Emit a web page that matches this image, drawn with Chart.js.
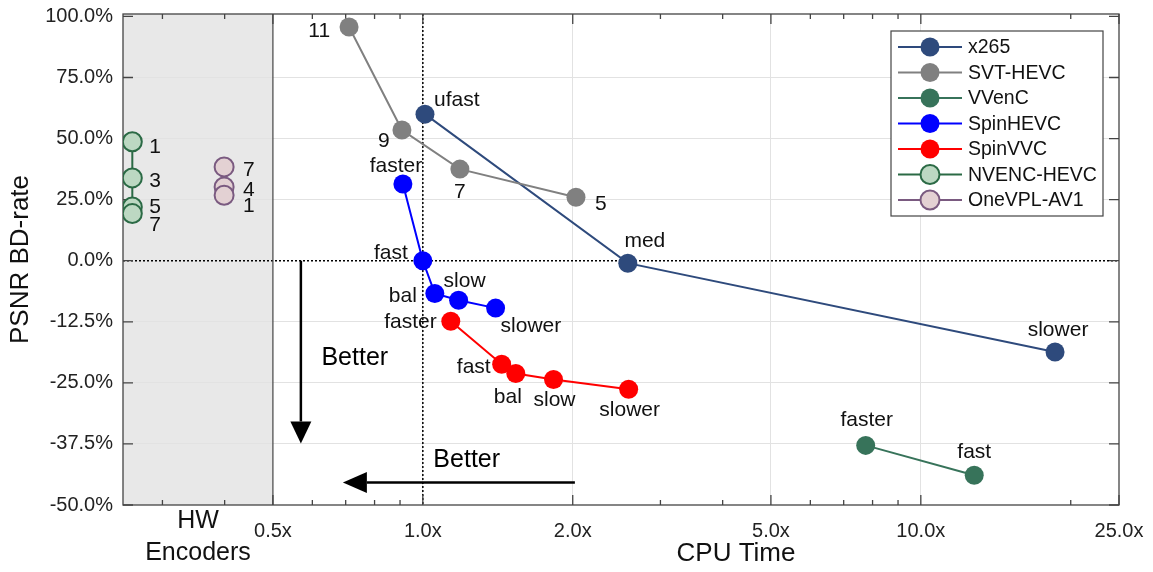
<!DOCTYPE html>
<html lang="en">
<head>
<meta charset="UTF-8">
<title>PSNR BD-rate vs CPU Time</title>
<script src="https://cdn.jsdelivr.net/npm/chart.js@4.4.1/dist/chart.umd.min.js"></script>
<style>
    body { margin: 0; background: #fff; }
    #wrap { width: 1153px; height: 572px; }
</style>
</head>
<body>
<div id="wrap"><canvas id="myChart"></canvas></div>
<script>
    // relative CPU time (x) and PSNR BD-rate in % (y), one set per encoder
    const x265Presets = ['ufast', 'med', 'slower'];
    const x265Time = [1.01, 2.58, 18.6];
    const x265Rate = [60.0, -0.5, -18.7];

    const svtPresets = ['11', '9', '7', '5'];
    const svtTime = [0.711, 0.908, 1.187, 2.03];
    const svtRate = [95.7, 53.5, 37.5, 26.0];

    const vvencPresets = ['faster', 'fast'];
    const vvencTime = [7.75, 12.8];
    const vvencRate = [-37.8, -43.9];

    const spinHevcPresets = ['faster', 'fast', 'bal', 'slow', 'slower'];
    const spinHevcTime = [0.912, 1.0, 1.057, 1.18, 1.40];
    const spinHevcRate = [31.4, 0.0, -6.7, -8.1, -9.7];

    const spinVvcPresets = ['faster', 'fast', 'bal', 'slow', 'slower'];
    const spinVvcTime = [1.138, 1.44, 1.537, 1.83, 2.59];
    const spinVvcRate = [-12.4, -21.2, -23.1, -24.3, -26.3];

    const nvencPresets = ['1', '3', '5', '7'];
    const nvencTime = [0.261, 0.261, 0.261, 0.261];
    const nvencRate = [48.7, 33.9, 22.0, 19.3];

    const onevplPresets = ['7', '4', '1'];
    const onevplTime = [0.399, 0.399, 0.399];
    const onevplRate = [38.4, 30.2, 26.8];

    const xTicks = [0.5, 1, 2, 5, 10, 25];
    const xMinorTicks = [0.3, 0.4, 0.6, 0.7, 0.8, 0.9, 3, 4, 6, 7, 8, 9, 20];
    const yTicks = [100, 75, 50, 25, 0, -12.5, -25, -37.5, -50];

    // y axis is split: positive side 25% per step, negative side 12.5% per step
    function yPlot(v) { return v >= 0 ? v : v * 2; }
    function yLabel(p) { return p >= 0 ? p : p / 2; }

    // label placement: [dx, dy, align] from the marker centre
    const labelPos = {
        'x265': [[9, -14, 'left'], [17, -22, 'center'], [3, -22, 'center']],
        'SVT-HEVC': [[-19, 4, 'right'], [-18, 11, 'center'], [0, 23, 'center'], [25, 7, 'center']],
        'VVenC': [[1, -25, 'center'], [0, -23, 'center']],
        'SpinHEVC': [[-7, -18, 'center'], [-15, -8, 'right'], [-18, 3, 'right'], [6, -19, 'center'], [5, 18, 'left']],
        'SpinVVC': [[-14, 1, 'right'], [-11, 3, 'right'], [-8, 24, 'center'], [1, 21, 'center'], [1, 21, 'center']],
        'NVENC-HEVC': [[17, 5, 'left'], [17, 3, 'left'], [17, 0, 'left'], [17, 12, 'left']],
        'OneVPL-AV1': [[19, 3, 'left'], [19, 3, 'left'], [19, 11, 'left']]
    };

    function series(label, times, rates, presets, line, fill, border) {
        return {
            label: label,
            data: times.map((t, i) => ({ x: t, y: yPlot(rates[i]) })),
            presets: presets,
            showLine: true,
            borderColor: line,
            borderWidth: 2,
            pointRadius: 9.5,
            pointHoverRadius: 9.5,
            pointBackgroundColor: fill,
            pointBorderColor: border,
            pointBorderWidth: border === fill ? 0 : 2
        };
    }

    const datasets = [
        series('OneVPL-AV1', onevplTime, onevplRate, onevplPresets, '#7a5a80', '#e3d1d3', '#7a5a80'),
        series('NVENC-HEVC', nvencTime, nvencRate, nvencPresets, '#2b6a45', '#bcd8c2', '#2b6a45'),
        series('VVenC', vvencTime, vvencRate, vvencPresets, '#37735a', '#37735a', '#37735a'),
        series('SpinVVC', spinVvcTime, spinVvcRate, spinVvcPresets, '#ff0000', '#ff0000', '#ff0000'),
        series('SpinHEVC', spinHevcTime, spinHevcRate, spinHevcPresets, '#0000ff', '#0000ff', '#0000ff'),
        series('SVT-HEVC', svtTime, svtRate, svtPresets, '#808080', '#808080', '#808080'),
        series('x265', x265Time, x265Rate, x265Presets, '#2e4a7c', '#2e4a7c', '#2e4a7c')
    ];
    const legendOrder = ['x265', 'SVT-HEVC', 'VVenC', 'SpinHEVC', 'SpinVVC', 'NVENC-HEVC', 'OneVPL-AV1'];

    const FONT = '"Liberation Sans", Arial, sans-serif';

    function arrow(ctx, x1, y1, x2, y2, head, half) {
        const a = Math.atan2(y2 - y1, x2 - x1);
        const bx = x2 - Math.cos(a) * head, by = y2 - Math.sin(a) * head;
        ctx.beginPath();
        ctx.moveTo(x1, y1);
        ctx.lineTo(bx, by);
        ctx.stroke();
        ctx.beginPath();
        ctx.moveTo(x2, y2);
        ctx.lineTo(bx + Math.sin(a) * half, by - Math.cos(a) * half);
        ctx.lineTo(bx - Math.sin(a) * half, by + Math.cos(a) * half);
        ctx.closePath();
        ctx.fill();
    }

    const decor = {
        id: 'decor',
        beforeDraw(chart) {
            const { ctx, chartArea: a, scales: { x } } = chart;
            ctx.save();
            ctx.fillStyle = '#e8e8e8';
            ctx.fillRect(a.left, a.top, x.getPixelForValue(0.5) - a.left, a.bottom - a.top);
            ctx.restore();
        },
        beforeDatasetsDraw(chart) {
            const { ctx, chartArea: a, scales: { x, y } } = chart;
            ctx.save();
            // reference lines
            ctx.strokeStyle = '#000';
            ctx.lineWidth = 1.5;
            ctx.setLineDash([2, 2]);
            const y0 = y.getPixelForValue(0), x1 = x.getPixelForValue(1);
            ctx.beginPath();
            ctx.moveTo(a.left, y0); ctx.lineTo(a.right, y0);
            ctx.moveTo(x1, a.top); ctx.lineTo(x1, a.bottom);
            ctx.stroke();
            ctx.setLineDash([]);
            // HW / SW split
            const xh = x.getPixelForValue(0.5);
            ctx.strokeStyle = '#444';
            ctx.lineWidth = 1.2;
            ctx.beginPath();
            ctx.moveTo(xh, a.top); ctx.lineTo(xh, a.bottom);
            ctx.stroke();
            // box and inward ticks
            ctx.strokeStyle = '#444';
            ctx.lineWidth = 1.3;
            ctx.strokeRect(a.left, a.top, a.right - a.left, a.bottom - a.top);
            ctx.beginPath();
            xTicks.forEach(v => {
                const px = x.getPixelForValue(v);
                ctx.moveTo(px, a.bottom); ctx.lineTo(px, a.bottom - 10);
                ctx.moveTo(px, a.top); ctx.lineTo(px, a.top + 10);
            });
            xMinorTicks.forEach(v => {
                const px = x.getPixelForValue(v);
                ctx.moveTo(px, a.bottom); ctx.lineTo(px, a.bottom - 5);
                ctx.moveTo(px, a.top); ctx.lineTo(px, a.top + 5);
            });
            yTicks.forEach(v => {
                const py = y.getPixelForValue(yPlot(v));
                ctx.moveTo(a.left, py); ctx.lineTo(a.left + 10, py);
                ctx.moveTo(a.right, py); ctx.lineTo(a.right - 10, py);
            });
            ctx.stroke();
            ctx.restore();
        },
        afterDatasetsDraw(chart) {
            const { ctx, chartArea: a, scales: { x, y } } = chart;
            ctx.save();
            // preset labels
            ctx.fillStyle = '#111';
            ctx.font = '21px ' + FONT;
            ctx.textBaseline = 'middle';
            chart.data.datasets.forEach((ds, di) => {
                const meta = chart.getDatasetMeta(di);
                ds.presets.forEach((txt, i) => {
                    const p = meta.data[i];
                    const [dx, dy, al] = labelPos[ds.label][i];
                    ctx.textAlign = al;
                    ctx.fillText(txt, p.x + dx, p.y + dy);
                });
            });
            // "Better" arrows
            ctx.strokeStyle = '#000';
            ctx.fillStyle = '#000';
            ctx.lineWidth = 2.5;
            arrow(ctx, x.getPixelForValue(0.569), y.getPixelForValue(0),
                x.getPixelForValue(0.569), y.getPixelForValue(yPlot(-37.4)), 22, 10.5);
            arrow(ctx, x.getPixelForValue(2.02), y.getPixelForValue(yPlot(-45.4)),
                x.getPixelForValue(0.691), y.getPixelForValue(yPlot(-45.4)), 24, 10.5);
            ctx.font = '25px ' + FONT;
            ctx.textAlign = 'center';
            ctx.fillText('Better', x.getPixelForValue(0.73), y.getPixelForValue(yPlot(-20)));
            ctx.fillText('Better', x.getPixelForValue(1.225), y.getPixelForValue(yPlot(-40.9)));
            // HW encoders caption and axis titles
            const hx = x.getPixelForValue(Math.sqrt(0.25 * 0.5));
            ctx.fillStyle = '#111';
            ctx.fillText('HW', hx, a.bottom + 16);
            ctx.fillText('Encoders', hx, a.bottom + 48);
            ctx.font = '26px ' + FONT;
            ctx.fillText('CPU Time', 736, 554);
            ctx.save();
            ctx.translate(21, (a.top + a.bottom) / 2);
            ctx.rotate(-Math.PI / 2);
            ctx.fillText('PSNR BD-rate', 0, 0);
            ctx.restore();
            // legend
            const lx = 891, ly = 31, lw = 212, lh = 185, row = 25.5;
            ctx.fillStyle = '#fff';
            ctx.fillRect(lx, ly, lw, lh);
            ctx.strokeStyle = '#444';
            ctx.lineWidth = 1.2;
            ctx.strokeRect(lx, ly, lw, lh);
            ctx.font = '19.5px ' + FONT;
            ctx.textAlign = 'left';
            legendOrder.forEach((name, i) => {
                const ds = chart.data.datasets.find(d => d.label === name);
                const cy = ly + 16 + i * row;
                ctx.strokeStyle = ds.borderColor;
                ctx.lineWidth = 2;
                ctx.beginPath();
                ctx.moveTo(lx + 7, cy); ctx.lineTo(lx + 71, cy);
                ctx.stroke();
                ctx.beginPath();
                ctx.arc(lx + 39, cy, 9.5, 0, Math.PI * 2);
                ctx.fillStyle = ds.pointBackgroundColor;
                ctx.fill();
                if (ds.pointBorderWidth) {
                    ctx.strokeStyle = ds.pointBorderColor;
                    ctx.stroke();
                }
                ctx.fillStyle = '#111';
                ctx.fillText(name, lx + 77, cy + 1);
            });
            ctx.restore();
        }
    };

    const ctx = document.getElementById('myChart').getContext('2d');
    const chart = new Chart(ctx, {
        type: 'scatter',
        data: { datasets: datasets },
        options: {
            responsive: true,
            maintainAspectRatio: false,
            animation: false,
            layout: { padding: { top: 14, right: 34, left: 0, bottom: 0 } },
            plugins: {
                legend: { display: false },
                tooltip: { enabled: false }
            },
            scales: {
                x: {
                    type: 'logarithmic',
                    min: 0.25,
                    max: 25,
                    afterBuildTicks: s => { s.ticks = xTicks.map(v => ({ value: v })); },
                    afterFit: s => { s.height = 67; s.paddingLeft = 0; s.paddingRight = 0; },
                    ticks: {
                        autoSkip: false,
                        maxRotation: 0,
                        padding: 14,
                        color: '#222',
                        font: { family: FONT, size: 20 },
                        callback: v => xTicks.includes(v) ? v.toFixed(1) + 'x' : ''
                    },
                    grid: {
                        drawTicks: false,
                        color: c => [1, 2, 5, 10].includes(c.tick && c.tick.value) ? '#e2e2e2' : 'rgba(0,0,0,0)'
                    },
                    border: { display: false }
                },
                y: {
                    min: -100,
                    max: 101,
                    afterBuildTicks: s => { s.ticks = yTicks.map(v => ({ value: yPlot(v) })); },
                    afterFit: s => { s.width = 123; s.paddingTop = 0; s.paddingBottom = 0; },
                    ticks: {
                        padding: 10,
                        color: '#222',
                        font: { family: FONT, size: 20 },
                        callback: v => yLabel(v).toFixed(1) + '%'
                    },
                    grid: {
                        drawTicks: false,
                        color: c => {
                            const v = c.tick && c.tick.value;
                            return (v === 0 || v === 100 || v === -100) ? 'rgba(0,0,0,0)' : '#e2e2e2';
                        }
                    },
                    border: { display: false }
                }
            }
        },
        plugins: [decor]
    });
</script>
</body>
</html>
